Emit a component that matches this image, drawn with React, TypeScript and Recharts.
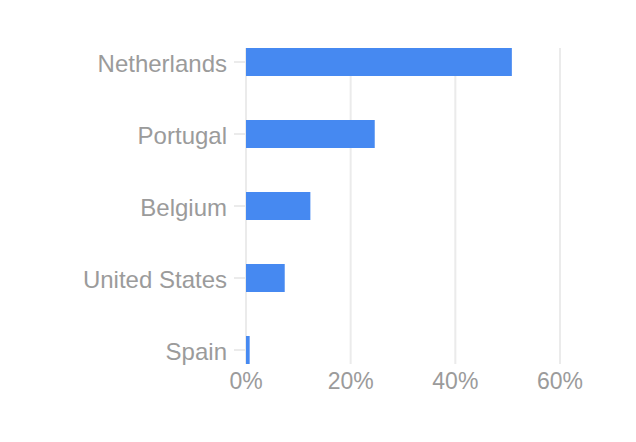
import { Bar, BarChart, CartesianGrid, XAxis, YAxis } from "recharts";

const countries = ["Netherlands", "Portugal", "Belgium", "United States", "Spain"];
const shares = [50.8, 24.6, 12.3, 7.4, 0.7];
const xTicks = [0, 20, 40, 60];

const data = countries.map((name, i) => ({ name, value: shares[i] }));

const textColor = "#9b9b9b";
const gridColor = "#ebebeb";
const font = "Liberation Sans, Arial, sans-serif";

export default function App() {
	return (
		<div style={{ position: "absolute", left: 0, top: 0, background: "#fff" }}>
			<BarChart
				width={636}
				height={442}
				data={data}
				layout="vertical"
				margin={{ top: 48, right: 76, bottom: 48, left: 0 }}
			>
				<CartesianGrid horizontal={false} stroke={gridColor} strokeWidth={2} />
				<XAxis
					type="number"
					domain={[0, 60]}
					ticks={xTicks}
					tickFormatter={(v) => `${v}%`}
					axisLine={false}
					tickLine={false}
					tickSize={6}
					tickMargin={3}
					tick={{ fill: textColor, fontSize: 23, fontFamily: font }}
				/>
				<YAxis
					type="category"
					dataKey="name"
					width={246}
					axisLine={false}
					tickSize={12}
					tickMargin={7}
					tickLine={{ stroke: gridColor, strokeWidth: 2 }}
					padding={{ top: -22, bottom: -22 }}
					tick={{ fill: textColor, fontSize: 24, fontFamily: font, dy: 1 }}
				/>
				<Bar dataKey="value" fill="#4689f1" barSize={28} isAnimationActive={false} />
			</BarChart>
		</div>
	);
}
